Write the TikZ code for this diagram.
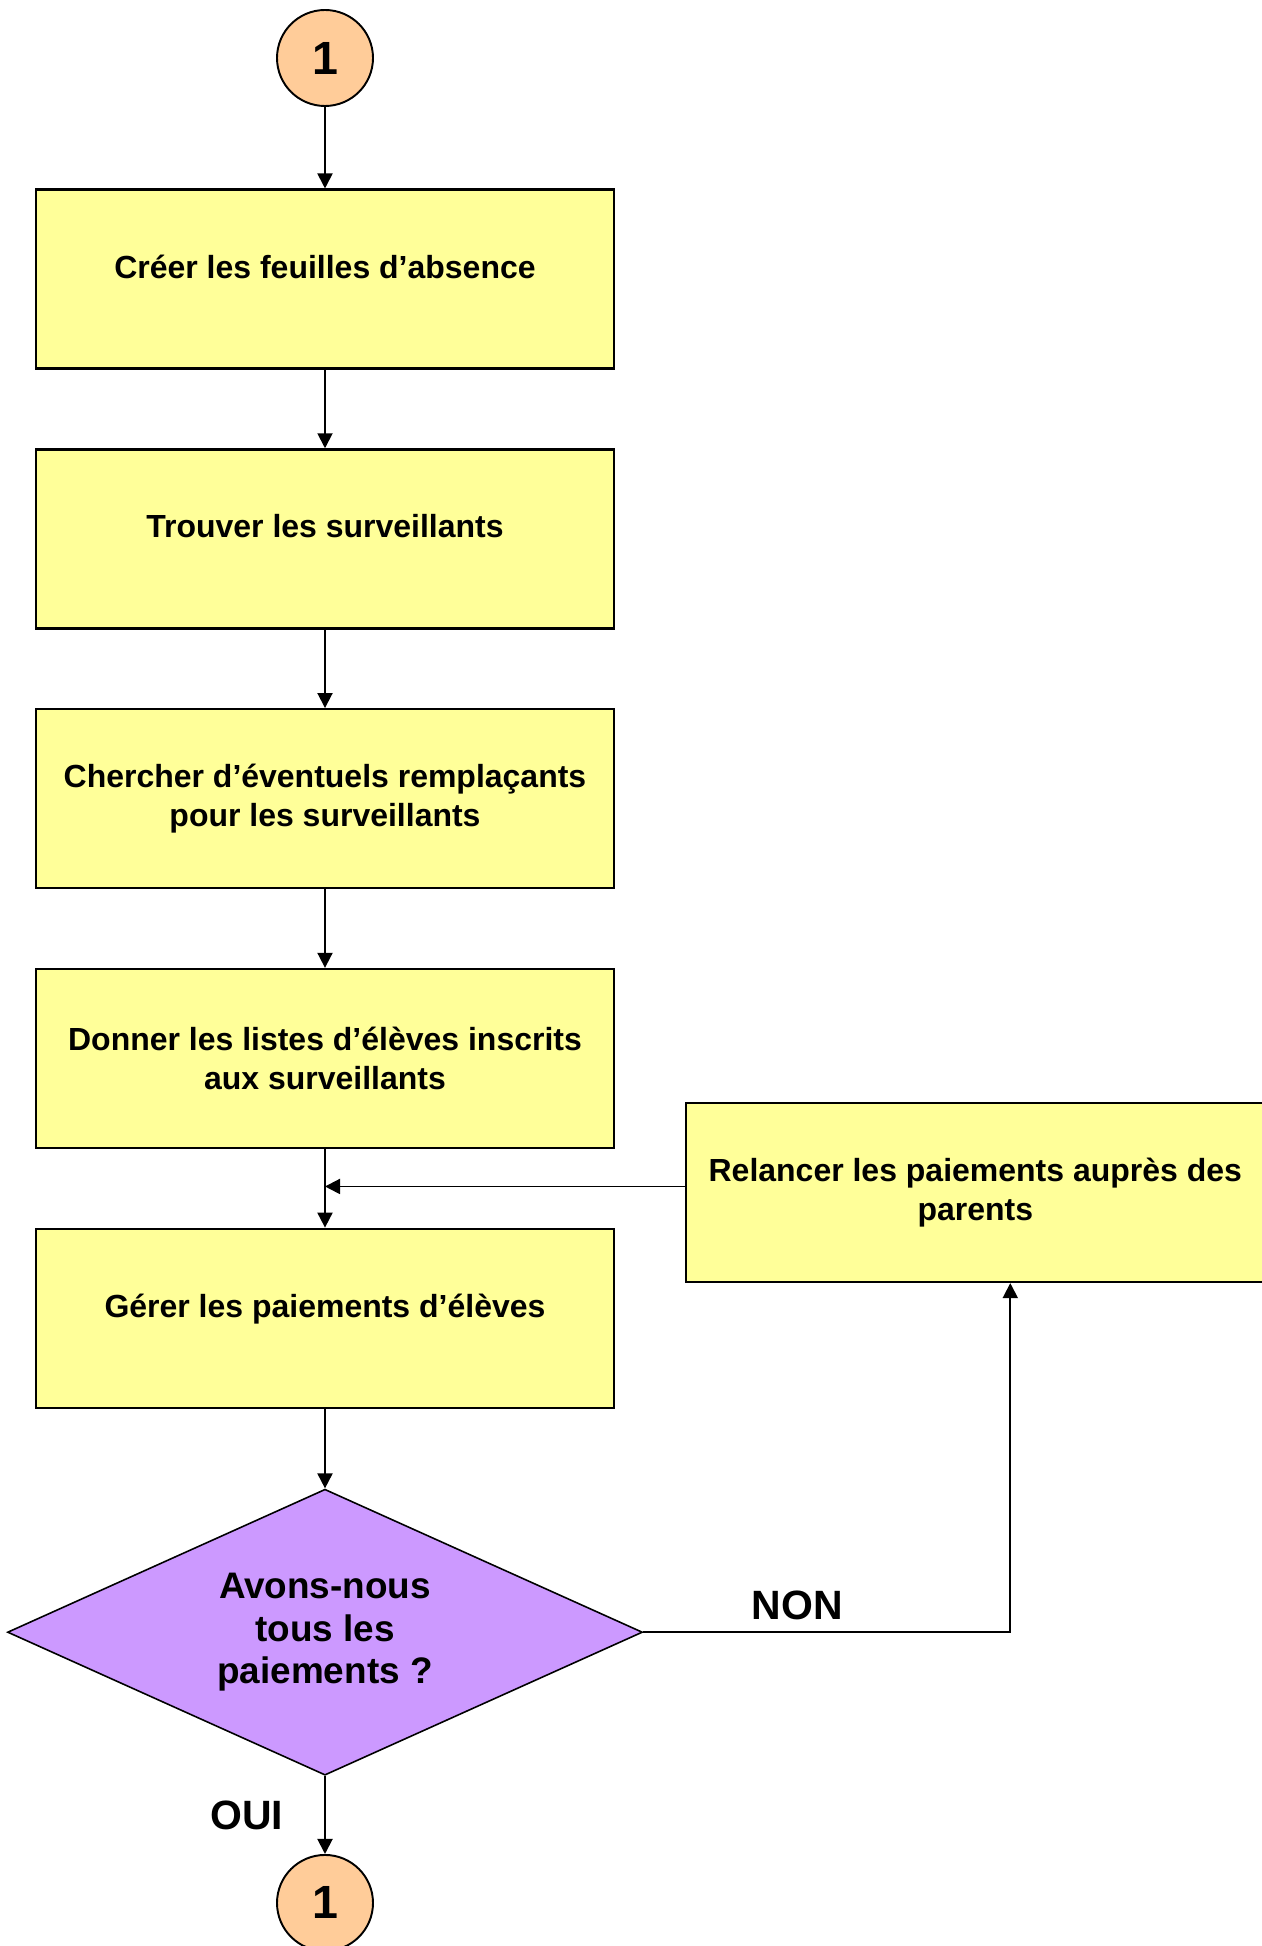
\documentclass[tikz,border=0pt]{standalone}
\usepackage{fontspec}
\setmainfont{Liberation Sans}
\usepackage{tikz}
\usetikzlibrary{arrows.meta, shapes.geometric, positioning}
\usepackage{xcolor}
\definecolor{boxyellow}{HTML}{FFFF99}
\definecolor{decpurple}{HTML}{CC99FF}
\definecolor{connpeach}{HTML}{FFCC99}

\begin{document}
\begin{tikzpicture}[
      node distance = 1.57cm,
      box/.style  = {draw, line width=1.3pt, fill=boxyellow, minimum width=11.56cm,
                     minimum height=3.58cm, align=center, inner sep=2pt,
                     font=\fontsize{18.2}{21.8}\selectfont\bfseries},
      oneline/.style = {text height=0.5cm, text depth=0.54cm},
      decision/.style = {diamond, draw, line width=0.9pt, fill=decpurple, aspect=2.22,
                     minimum width=12.7cm, minimum height=5.72cm, inner sep=0pt,
                     align=center, font=\fontsize{21}{24.4}\selectfont\bfseries},
      conn/.style = {circle, draw, line width=1.1pt, fill=connpeach, minimum size=1.92cm,
                     inner sep=0pt, font=\fontsize{26.5}{30}\selectfont\bfseries},
      lbl/.style  = {font=\fontsize{23.3}{28}\selectfont\bfseries, inner sep=2pt},
      arr/.style  = {-{Triangle[length=0.3cm, width=0.3cm]}, line width=1.1pt}
    ]
    \useasboundingbox (0,0) rectangle (25.24,-38.92);

    % ---- main column (top to bottom) ----
    \node[conn] (debut) at (6.5,-1.16) {1};
    \node[box, oneline, below=1.63cm of debut] (creer)   {Créer les feuilles d’absence};
    \node[box, oneline, below=of creer]        (trouver) {Trouver les surveillants};
    \node[box, below=of trouver]  (chercher) {Chercher d’éventuels remplaçants\\pour les surveillants};
    \node[box, below=of chercher] (donner)   {Donner les listes d’élèves inscrits\\aux surveillants};
    \node[box, oneline, below=of donner]       (gerer)   {Gérer les paiements d’élèves};
    \node[decision, below=1.59cm of gerer] (question) {Avons-nous\\tous les\\paiements ?};
    \node[conn, below=1.56cm of question]  (fin)      {1};

    % ---- side box: reminder loop ----
    \node[box, right=1.4cm of donner, yshift=-2.68cm] (relancer)
        {Relancer les paiements auprès des\\parents};

    % ---- main arrows ----
    \draw[arr] (debut)    -- (creer);
    \draw[arr] (creer)    -- (trouver);
    \draw[arr] (trouver)  -- (chercher);
    \draw[arr] (chercher) -- (donner);
    \draw[arr] (donner)   -- (gerer);
    \draw[arr] (gerer)    -- (question);
    \draw[arr] (question) -- (fin)
        node[lbl, midway, left=0.75cm]{OUI};

    % ---- NON branch back into the column ----
    \draw[arr] (question.east) -| ([xshift=0.7cm]relancer.south)
        node[lbl, above=0.15cm, pos=0.21]{NON};
    \draw[arr] ([yshift=0.12cm]relancer.west) -- ([yshift=0.12cm]relancer.west -| gerer.north);

  \end{tikzpicture}
\end{document}
